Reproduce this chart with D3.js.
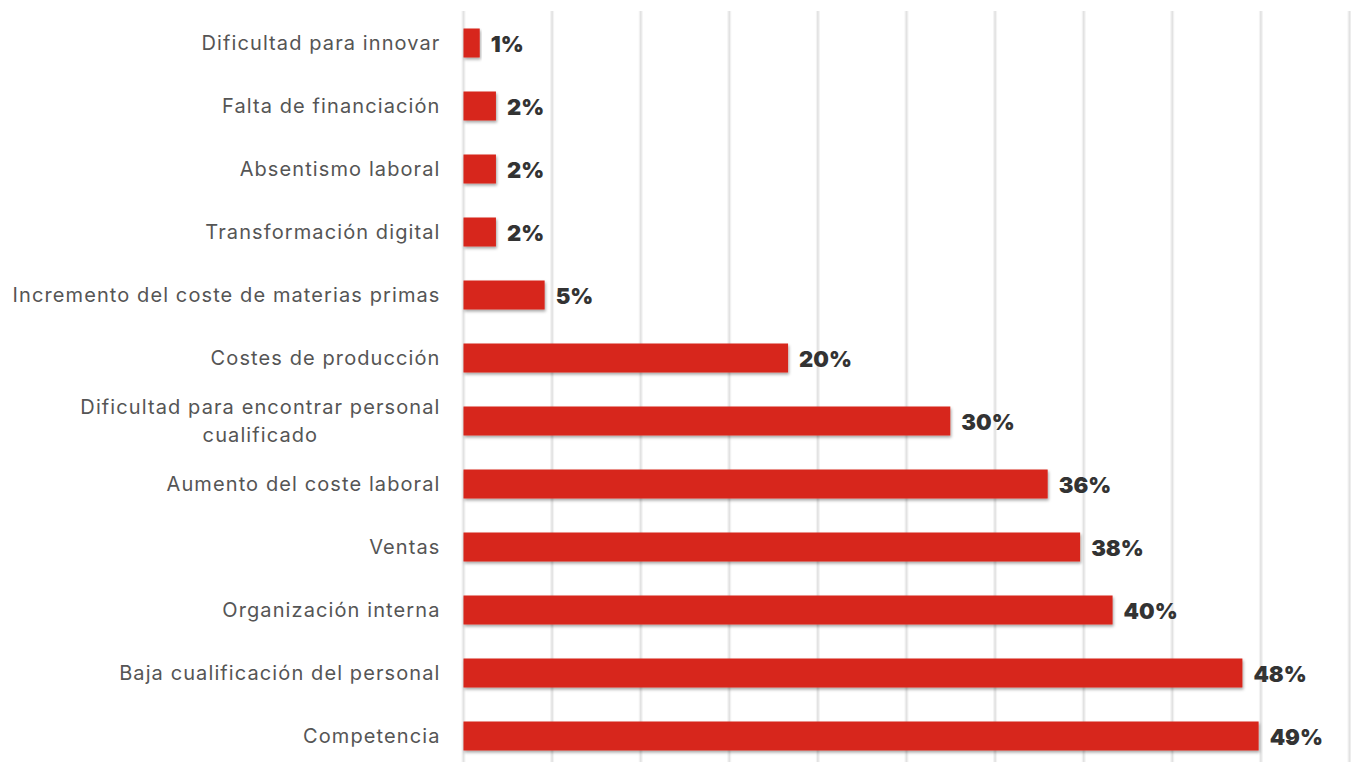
<!DOCTYPE html>
<html>
<head>
<meta charset="utf-8">
<script src="https://cdn.jsdelivr.net/npm/d3@7"></script>
<style>
  html, body { margin: 0; padding: 0; background: #fff; }
  svg { display: block; }
</style>
</head>
<body>
<svg id="chart" width="1351" height="762"></svg>
<script>
// Categories, top to bottom
const categories = [
  "Dificultad para innovar",
  "Falta de financiación",
  "Absentismo laboral",
  "Transformación digital",
  "Incremento del coste de materias primas",
  "Costes de producción",
  "Dificultad para encontrar personal\ncualificado",
  "Aumento del coste laboral",
  "Ventas",
  "Organización interna",
  "Baja cualificación del personal",
  "Competencia"
];
// Share of respondents (%)
const values = [1, 2, 2, 2, 5, 20, 30, 36, 38, 40, 48, 49];
// Upper bound of the value axis and number of grid intervals
const xMax = 54.6;
const gridCount = 10;

const svg = d3.select("#chart");
const W = 1351, H = 762;
const plotLeft = 463.5, plotRight = 1349.5, plotTop = 11.5, plotBottom = 767.5;

const x = d3.scaleLinear().domain([0, xMax]).range([plotLeft, plotRight]);
const y = d3.scaleBand().domain(categories).range([plotTop, plotBottom]).paddingInner(0.54).paddingOuter(0.27);

const defs = svg.append("defs");
const f = defs.append("filter").attr("id", "shadow")
  .attr("x", "-5%").attr("y", "-30%").attr("width", "115%").attr("height", "190%");
f.append("feDropShadow").attr("dx", 1).attr("dy", 2).attr("stdDeviation", 1.6)
  .attr("flood-color", "#000").attr("flood-opacity", 0.35);

// Vertical grid lines
const gridVals = d3.range(0, gridCount + 1).map(i => i * xMax / gridCount);
const grid = svg.append("g");
grid.selectAll("line.halo")
  .data(gridVals)
  .join("line")
  .attr("class", "halo")
  .attr("x1", d => x(d)).attr("x2", d => x(d))
  .attr("y1", 11).attr("y2", H)
  .attr("stroke", "#f3f3f3")
  .attr("stroke-width", 4);
grid.selectAll("line.main")
  .data(gridVals)
  .join("line")
  .attr("class", "main")
  .attr("x1", d => x(d)).attr("x2", d => x(d))
  .attr("y1", 11).attr("y2", H)
  .attr("stroke", "#e2e2e2")
  .attr("stroke-width", 1.6);

// Bars
svg.append("g")
  .selectAll("rect")
  .data(categories)
  .join("rect")
  .attr("x", x(0))
  .attr("y", d => y(d))
  .attr("width", (d, i) => x(values[i]) - x(0))
  .attr("height", y.bandwidth())
  .attr("fill", "#d7261b")
  .attr("filter", "url(#shadow)");

// Value labels
svg.append("g")
  .selectAll("text")
  .data(categories)
  .join("text")
  .attr("x", (d, i) => x(values[i]) + 11)
  .attr("y", d => y(d) + y.bandwidth() / 2 + 3)
  .attr("dominant-baseline", "middle")
  .attr("font-family", "Inter, 'DejaVu Sans', sans-serif")
  .attr("font-weight", 900)
  .attr("font-size", 22)
  .attr("fill", "#333")
  .text((d, i) => values[i] + "%");

// Category labels (multi-line labels are centred on their block)
const labelG = svg.append("g");
const labelX = 440.5;
categories.forEach(c => {
  const lines = c.split("\n");
  const cy = y(c) + y.bandwidth() / 2 + 1.5;
  const lh = 28;
  const t = labelG.append("text")
    .attr("font-family", "Inter, 'Open Sans', sans-serif")
    .attr("font-weight", 400)
    .attr("font-size", 20)
    .attr("letter-spacing", 1.1)
    .attr("fill", "#555")
    .attr("dominant-baseline", "middle");
  if (lines.length === 1) {
    t.attr("x", labelX).attr("y", cy).attr("text-anchor", "end").text(c);
  } else {
    const y0 = cy - (lines.length - 1) * lh / 2;
    lines.forEach((ln, k) => {
      t.append("tspan").attr("x", labelX).attr("y", y0 + k * lh)
        .attr("text-anchor", "end").text(ln);
    });
  }
});
// Centre the lines of multi-line labels under each other
labelG.selectAll("text").each(function() {
  const spans = d3.select(this).selectAll("tspan");
  if (spans.empty()) return;
  const widths = spans.nodes().map(n => n.getComputedTextLength());
  const wMax = d3.max(widths);
  spans.each(function() {
    d3.select(this).attr("text-anchor", "middle").attr("x", labelX - wMax / 2);
  });
});
</script>
</body>
</html>
